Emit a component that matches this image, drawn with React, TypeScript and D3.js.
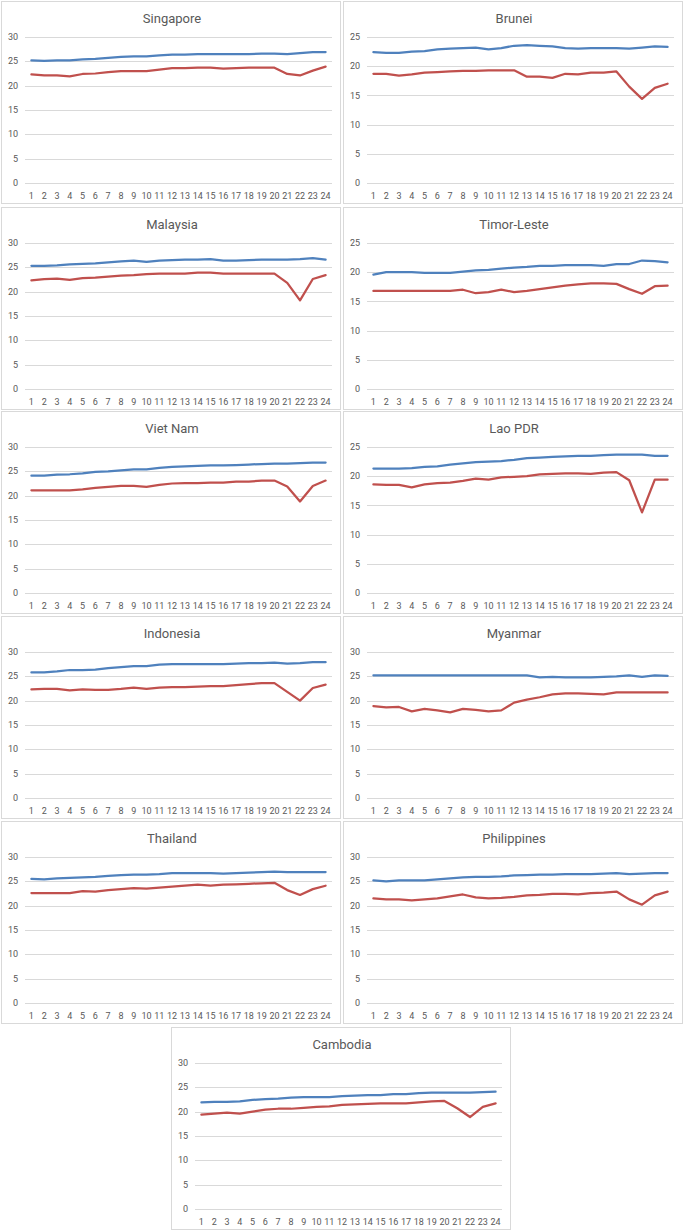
import React from 'react';
import * as d3 from 'd3';

// hour of day
const hours = d3.range(1, 25).map(String);

const countries = [
  'Singapore', 'Brunei', 'Malaysia', 'Timor-Leste', 'Viet Nam', 'Lao PDR',
  'Indonesia', 'Myanmar', 'Thailand', 'Philippines', 'Cambodia',
];

const axisMax = [30, 25, 30, 25, 30, 25, 30, 30, 30, 30, 30];

const singaporeBlue = [25.2, 25.1, 25.2, 25.2, 25.4, 25.5, 25.7, 25.9, 26.0, 26.0, 26.2, 26.4, 26.4, 26.5, 26.5, 26.5, 26.5, 26.5, 26.6, 26.6, 26.5, 26.7, 26.9, 26.9];
const singaporeRed = [22.3, 22.1, 22.1, 21.9, 22.4, 22.5, 22.8, 23.0, 23.0, 23.0, 23.3, 23.6, 23.6, 23.7, 23.7, 23.5, 23.6, 23.7, 23.7, 23.7, 22.4, 22.1, 23.1, 23.9];

const bruneiBlue = [22.4, 22.3, 22.3, 22.5, 22.6, 22.9, 23.0, 23.1, 23.2, 22.9, 23.1, 23.5, 23.6, 23.5, 23.4, 23.1, 23.0, 23.1, 23.1, 23.1, 23.0, 23.2, 23.4, 23.3];
const bruneiRed = [18.7, 18.7, 18.4, 18.6, 18.9, 19.0, 19.1, 19.2, 19.2, 19.3, 19.3, 19.3, 18.2, 18.2, 18.0, 18.7, 18.6, 18.9, 18.9, 19.1, 16.5, 14.4, 16.3, 17.0];

const malaysiaBlue = [25.3, 25.3, 25.4, 25.6, 25.7, 25.8, 26.0, 26.2, 26.4, 26.1, 26.4, 26.5, 26.6, 26.6, 26.7, 26.4, 26.4, 26.5, 26.6, 26.6, 26.6, 26.7, 26.9, 26.6];
const malaysiaRed = [22.3, 22.6, 22.7, 22.4, 22.8, 22.9, 23.1, 23.3, 23.4, 23.6, 23.7, 23.7, 23.7, 23.9, 23.9, 23.7, 23.7, 23.7, 23.7, 23.7, 21.8, 18.2, 22.6, 23.4];

const timorBlue = [19.6, 20.0, 20.0, 20.0, 19.9, 19.9, 19.9, 20.1, 20.3, 20.4, 20.6, 20.8, 20.9, 21.1, 21.1, 21.2, 21.2, 21.2, 21.1, 21.4, 21.4, 22.0, 21.9, 21.7];
const timorRed = [16.8, 16.8, 16.8, 16.8, 16.8, 16.8, 16.8, 17.0, 16.4, 16.6, 17.0, 16.6, 16.8, 17.1, 17.4, 17.7, 17.9, 18.1, 18.1, 18.0, 17.1, 16.3, 17.6, 17.7];

const vietnamBlue = [24.1, 24.1, 24.3, 24.4, 24.6, 24.9, 25.0, 25.2, 25.4, 25.4, 25.7, 25.9, 26.0, 26.1, 26.2, 26.2, 26.3, 26.4, 26.5, 26.6, 26.6, 26.7, 26.8, 26.8];
const vietnamRed = [21.1, 21.1, 21.1, 21.1, 21.3, 21.6, 21.8, 22.0, 22.0, 21.8, 22.2, 22.5, 22.6, 22.6, 22.7, 22.7, 22.9, 22.9, 23.1, 23.1, 21.9, 18.8, 22.0, 23.1];

const laoBlue = [21.3, 21.3, 21.3, 21.4, 21.6, 21.7, 22.0, 22.2, 22.4, 22.5, 22.6, 22.8, 23.1, 23.2, 23.3, 23.4, 23.5, 23.5, 23.6, 23.7, 23.7, 23.7, 23.5, 23.5];
const laoRed = [18.6, 18.5, 18.5, 18.1, 18.6, 18.8, 18.9, 19.2, 19.6, 19.4, 19.8, 19.9, 20.0, 20.3, 20.4, 20.5, 20.5, 20.4, 20.6, 20.7, 19.3, 13.8, 19.4, 19.4];

const indonesiaBlue = [25.8, 25.8, 26.0, 26.3, 26.3, 26.4, 26.7, 26.9, 27.1, 27.1, 27.4, 27.5, 27.5, 27.5, 27.5, 27.5, 27.6, 27.7, 27.7, 27.8, 27.6, 27.7, 27.9, 27.9];
const indonesiaRed = [22.3, 22.4, 22.4, 22.1, 22.3, 22.2, 22.2, 22.4, 22.7, 22.4, 22.7, 22.8, 22.8, 22.9, 23.0, 23.0, 23.2, 23.4, 23.6, 23.6, 21.8, 20.0, 22.6, 23.3];

const myanmarBlue = [25.2, 25.2, 25.2, 25.2, 25.2, 25.2, 25.2, 25.2, 25.2, 25.2, 25.2, 25.2, 25.2, 24.8, 24.9, 24.8, 24.8, 24.8, 24.9, 25.0, 25.2, 24.9, 25.2, 25.1];
const myanmarRed = [18.9, 18.6, 18.7, 17.8, 18.3, 18.0, 17.6, 18.3, 18.1, 17.8, 18.0, 19.6, 20.2, 20.7, 21.3, 21.5, 21.5, 21.4, 21.3, 21.7, 21.7, 21.7, 21.7, 21.7];

const thailandBlue = [25.5, 25.4, 25.6, 25.7, 25.8, 25.9, 26.1, 26.3, 26.4, 26.4, 26.5, 26.7, 26.7, 26.7, 26.7, 26.6, 26.7, 26.8, 26.9, 27.0, 26.9, 26.9, 26.9, 26.9];
const thailandRed = [22.6, 22.6, 22.6, 22.6, 23.0, 22.9, 23.2, 23.4, 23.6, 23.5, 23.7, 23.9, 24.1, 24.3, 24.1, 24.3, 24.4, 24.5, 24.6, 24.7, 23.2, 22.2, 23.4, 24.1];

const philippinesBlue = [25.2, 25.0, 25.2, 25.2, 25.2, 25.4, 25.6, 25.8, 25.9, 25.9, 26.0, 26.2, 26.3, 26.4, 26.4, 26.5, 26.5, 26.5, 26.6, 26.7, 26.5, 26.6, 26.7, 26.7];
const philippinesRed = [21.5, 21.3, 21.3, 21.1, 21.3, 21.5, 21.9, 22.3, 21.7, 21.5, 21.6, 21.8, 22.1, 22.2, 22.4, 22.4, 22.3, 22.6, 22.7, 22.9, 21.3, 20.2, 22.1, 22.9];

const cambodiaBlue = [21.9, 22.0, 22.0, 22.1, 22.4, 22.6, 22.7, 22.9, 23.0, 23.0, 23.0, 23.2, 23.3, 23.4, 23.4, 23.6, 23.6, 23.8, 23.9, 23.9, 23.9, 23.9, 24.0, 24.1];
const cambodiaRed = [19.4, 19.6, 19.8, 19.6, 20.0, 20.4, 20.6, 20.6, 20.8, 21.0, 21.1, 21.4, 21.5, 21.6, 21.7, 21.7, 21.7, 21.9, 22.1, 22.2, 20.7, 18.9, 21.0, 21.7];

const blueSeries = [singaporeBlue, bruneiBlue, malaysiaBlue, timorBlue, vietnamBlue, laoBlue, indonesiaBlue, myanmarBlue, thailandBlue, philippinesBlue, cambodiaBlue];
const redSeries = [singaporeRed, bruneiRed, malaysiaRed, timorRed, vietnamRed, laoRed, indonesiaRed, myanmarRed, thailandRed, philippinesRed, cambodiaRed];

const W = 685;
const H = 1232;
const PW = 340;
const PH = 203;
const rowTops = [1, 207, 411, 616, 821, 1027];
const BLUE = '#4f81bd';
const RED = '#c0504d';
const TEXT = '#595959';
const GRID = '#d9d9d9';
const FONT = 'Roboto, "Open Sans", sans-serif';

function panelOrigin(i: number) {
  if (i === 10) return { x: 171, y: rowTops[5] };
  return { x: i % 2 === 0 ? 1 : 343, y: rowTops[Math.floor(i / 2)] };
}

const Panel: React.FC<{ i: number }> = ({ i }) => {
  const { x: ox, y: oy } = panelOrigin(i);
  const max = axisMax[i];
  const x = d3.scaleBand<string>().domain(hours).range([24, 331]);
  const y = d3.scaleLinear().domain([0, max]).range([182, 36]);
  const cx = (h: string) => (x(h) ?? 0) + x.bandwidth() / 2;
  const ticks = d3.range(0, max + 1, 5);
  const line = d3
    .line<number>()
    .x((_, k) => cx(hours[k]))
    .y((d) => y(d));

  return (
    <g transform={`translate(${ox},${oy})`}>
      <rect x={0.5} y={0.5} width={PW - 1} height={PH - 1} fill="#fff" stroke={GRID} />
      <text x={171} y={21.5} textAnchor="middle" fontSize={13} fill={TEXT} fontFamily={FONT}>
        {countries[i]}
      </text>
      {ticks.map((t) => (
        <g key={t}>
          <line x1={24} x2={331} y1={Math.round(y(t)) + 0.5} y2={Math.round(y(t)) + 0.5} stroke={GRID} />
          <text x={17} y={y(t)} dy="0.35em" textAnchor="end" fontSize={9} fill={TEXT} fontFamily={FONT}>
            {t}
          </text>
        </g>
      ))}
      {hours.map((h) => (
        <text key={h} x={cx(h)} y={198} textAnchor="middle" fontSize={9} fill={TEXT} fontFamily={FONT}>
          {h}
        </text>
      ))}
      <path d={line(blueSeries[i]) ?? ''} fill="none" stroke={BLUE} strokeWidth={2.25} strokeLinejoin="round" strokeLinecap="round" />
      <path d={line(redSeries[i]) ?? ''} fill="none" stroke={RED} strokeWidth={2.25} strokeLinejoin="round" strokeLinecap="round" />
    </g>
  );
};

export default function App() {
  return (
    <div style={{ position: 'absolute', left: 0, top: 0 }}>
      <svg width={W} height={H} style={{ display: 'block', background: '#fff' }}>
        {countries.map((c, i) => (
          <Panel key={c} i={i} />
        ))}
      </svg>
    </div>
  );
}
